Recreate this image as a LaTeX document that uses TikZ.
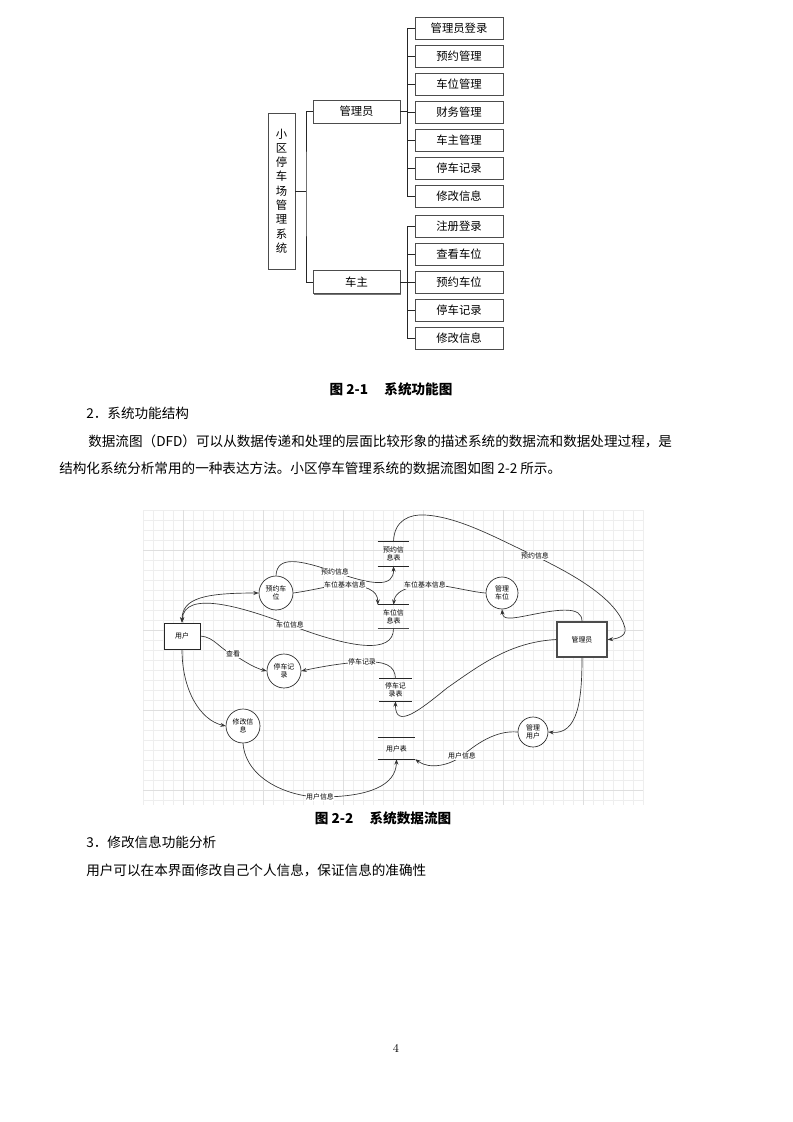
\documentclass[tikz,border=0pt]{standalone}
\usepackage{fontspec}
\newfontfamily\cjk{Noto Sans CJK SC}
\usetikzlibrary{arrows.meta,shadows}
\newcommand\dfdf{\cjk\fontsize{5.2}{6.2}\selectfont}
\newcommand\treef{\cjk\fontsize{8.5}{10.7}\selectfont}
\newcommand\bodyf{\cjk\fontsize{10.2}{12}\selectfont}
\begin{document}
\begin{tikzpicture}[x=0.75pt,y=-0.75pt,
  tbox/.style={draw=black!70, line width=0.5pt, fill=white, minimum width=66pt, minimum height=16.5pt, inner sep=0pt, font=\treef,
    drop shadow={shadow xshift=0.9pt, shadow yshift=-0.9pt, fill=black!55, opacity=1}},
  tline/.style={draw=black!85, line width=0.6pt},
  proc/.style={circle, draw=black!85, line width=0.5pt, fill=white, inner sep=0pt, font=\dfdf, align=center},
  ent/.style={rectangle, draw=black!85, line width=0.6pt, fill=white, inner sep=0pt, font=\dfdf},
  store/.style={rectangle, inner sep=0pt, font=\dfdf, align=center},
  storeline/.style={draw=black!85, line width=0.5pt},
  flow/.style={draw=black!80, line width=0.5pt, -{Stealth[length=4pt,width=3pt]}},
  lbl/.style={fill=white, inner sep=0.3pt, font=\dfdf},
  body/.style={anchor=west, inner sep=0pt, font=\bodyf},
  captxt/.style={anchor=center, inner sep=0pt, font=\bodyf\bfseries}]
\useasboundingbox (0,0) rectangle (793,1122);
\fill[white] (0,0) rectangle (793,1122);

% ---------------- Figure 2-1 tree ----------------
\node[tbox, minimum width=20.25pt, minimum height=117pt, align=center] (root) at (281.5,191)
  {小\\区\\停\\车\\场\\管\\理\\系\\统};
\node[tbox, minimum width=65.25pt, minimum height=17.25pt] (adm) at (356.5,111.5) {管理员};
\node[tbox, minimum width=65.25pt, minimum height=17.25pt] (own) at (356.5,282) {车主};
\foreach \t [count=\i] in {管理员登录,预约管理,车位管理,财务管理,车主管理,停车记录,修改信息}
  \node[tbox] (a\i) at (459,{28+(\i-1)*28}) {\t};
\foreach \t [count=\i] in {注册登录,查看车位,预约车位,停车记录,修改信息}
  \node[tbox] (o\i) at (459,{226+(\i-1)*28}) {\t};
\coordinate (tr) at (306,191);
\coordinate (ta) at (407,0);
\draw[tline] (root.east) -- (tr);
\draw[tline] (adm.west) -| (tr) |- (own.west);
\draw[tline] (adm.east) -- (adm.east -| ta);
\draw[tline] (own.east) -- (own.east -| ta);
\draw[tline] (a1.west) -- (a1.west -| ta) -- (a7.west -| ta) -- (a7.west);
\foreach \i in {2,...,6} \draw[tline] (a\i.west) -- (a\i.west -| ta);
\draw[tline] (o1.west) -- (o1.west -| ta) -- (o5.west -| ta) -- (o5.west);
\foreach \i in {2,...,4} \draw[tline] (o\i.west) -- (o\i.west -| ta);

% ---------------- text ----------------
\node[captxt] (cap1) at (391,389) {图 2-1\hspace{1.2em}系统功能图};
\node[body] (t1) at (86,413) {2．系统功能结构};
\node[body] (t2) at (88,441) {数据流图（DFD）可以从数据传递和处理的层面比较形象的描述系统的数据流和数据处理过程，是};
\node[body] (t3) at (59,468) {结构化系统分析常用的一种表达方法。小区停车管理系统的数据流图如图 2-2 所示。};

% ---------------- Figure 2-2 DFD ----------------
\foreach \x in {143,153,...,643} \draw[gray!13, line width=0.4pt] (\x,510) -- (\x,805);
\foreach \y in {510,520,...,805} \draw[gray!13, line width=0.4pt] (143,\y) -- (643,\y);
\foreach \x in {183,263,...,643} \draw[gray!25, line width=0.5pt] (\x,510) -- (\x,805);
\foreach \y in {550,630,...,805} \draw[gray!25, line width=0.5pt] (143,\y) -- (643,\y);

\node[ent, minimum width=27pt, minimum height=19.5pt] (user) at (182,636) {用户};
\node[ent, draw=black!70, line width=1pt, minimum width=37.5pt, minimum height=26.25pt] (mgr) at (582,639.5) {管理员};
\node[proc, minimum size=25.5pt] (c1) at (276,593) {预约车\\位};
\node[proc, minimum size=24pt] (c2) at (502,593) {管理\\车位};
\node[proc, minimum size=25.5pt] (c3) at (284,671) {停车记\\录};
\node[proc, minimum size=25.5pt] (c4) at (243,726) {修改信\\息};
\node[proc, minimum size=22.5pt] (c5) at (533,732) {管理\\用户};
\node[store, minimum width=23.25pt, minimum height=18pt] (s1) at (393.5,554) {预约信\\息表};
\node[store, minimum width=23.25pt, minimum height=17.25pt] (s2) at (393.5,616.5) {车位信\\息表};
\node[store, minimum width=24pt, minimum height=16.5pt] (s3) at (395.5,690) {停车记\\录表};
\node[store, minimum width=27.75pt, minimum height=15.75pt] (s4) at (396.5,748.5) {用户表};
\foreach \s in {s1,s3,s4}
  \draw[storeline] (\s.north west) -- (\s.north east) (\s.south west) -- (\s.south east);
\draw[storeline] (s2.north west) -- (s2.north east);
\draw[storeline, line width=1.1pt, draw=black!70] (s2.south west) -- (s2.south east);

% flows
\draw[flow] (c1.north) .. controls (277,555) and (300,560) .. (335,572) node[lbl] (l1) {预约信息}
  .. controls (372,585) and (394,588) .. (s1.south);
\draw[flow] (c1.east) .. controls (315,590) and (330,585) .. (345,585) node[lbl] (l2) {车位基本信息}
  .. controls (365,585) and (378,590) .. (s2.north west);
\draw[flow] (c2.west) .. controls (470,592) and (440,583) .. (425,585) node[lbl] (l3) {车位基本信息}
  .. controls (405,587) and (395,592) .. (s2.north);
\draw[flow, {Stealth[length=4pt,width=3pt]}-{Stealth[length=4pt,width=3pt]}] (user.north) .. controls (182,598) and (205,593) .. (c1.west);
\draw[flow] (s2.south) .. controls (394,655) and (350,648) .. (290,625) node[lbl] (l4) {车位信息}
  .. controls (240,606) and (184,590) .. (user.north);
\draw[flow] (user.east) .. controls (215,637) and (220,650) .. (233,654) node[lbl] (l5) {查看}
  .. controls (245,662) and (255,668) .. (c3.west);
\draw[flow] (s3.north) .. controls (395,665) and (385,661) .. (362,662) node[lbl] (l6) {停车记录}
  .. controls (340,663) and (315,668) .. (c3.east);
\draw[flow] (user.south) .. controls (182,690) and (200,720) .. (c4.west);
\draw[flow] (c4.south) .. controls (246,780) and (290,797) .. (320,797) node[lbl] (l7) {用户信息}
  .. controls (370,797) and (396,785) .. (s4.south);
\draw[flow] (c5.west) .. controls (495,730) and (475,745) .. (462,756) node[lbl] (l8) {用户信息}
  .. controls (450,765) and (430,770) .. (s4.south east);
\draw[flow] (mgr.south) .. controls (582,700) and (578,735) .. (c5.east);
\draw[flow] (mgr.north) .. controls (582,606) and (560,609) .. (530,615)
  .. controls (510,619) and (503,620) .. (c2.south);
\draw[flow] (mgr.west) .. controls (510,642) and (480,665) .. (447,688)
  .. controls (420,710) and (395,730) .. (s3.south);
\draw[flow] (s1.north) .. controls (394,520) and (410,514) .. (425,515)
  .. controls (460,517) and (500,540) .. (535,556) node[lbl] (l9) {预约信息}
  .. controls (575,575) and (618,600) .. (625,628)
  .. controls (627,637) and (615,639) .. (mgr.east);

\node[captxt] (cap2) at (383,818) {图 2-2\hspace{1.2em}系统数据流图};
\node[body] (t4) at (86,842) {3．修改信息功能分析};
\node[body] (t5) at (86,870) {用户可以在本界面修改自己个人信息，保证信息的准确性};
\node[inner sep=0pt, font=\fontsize{9}{10}\selectfont] (pg) at (396,1048) {4};
\end{tikzpicture}
\end{document}
